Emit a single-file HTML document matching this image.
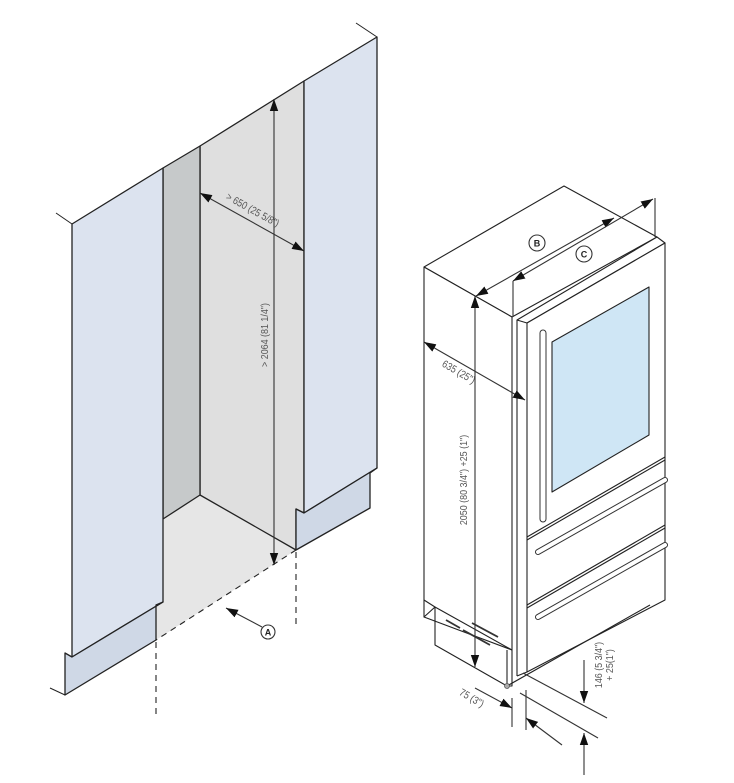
<!DOCTYPE html>
<html><head><meta charset="utf-8"><style>html,body{margin:0;padding:0;background:#fff}svg{display:block}text{font-family:"Liberation Sans",sans-serif;fill:#555;font-size:10.5px}</style></head><body>
<svg width="734" height="783" viewBox="0 0 734 783" xmlns="http://www.w3.org/2000/svg">
<defs>
<marker id="ah" viewBox="0 0 10 10" refX="10" refY="5" markerWidth="12" markerHeight="12" markerUnits="userSpaceOnUse" orient="auto-start-reverse"><path d="M0,1.5 L10,5 L0,8.5 z" fill="#111"/></marker>
</defs>
<g stroke="#222" stroke-width="1.3" stroke-linejoin="round">
<polygon points="163,519 200,495 296,550 156,640 156,605 163,602" fill="#e6e6e6" stroke="none"/>
<polygon points="200,146 304,81 304,513 296,509 296,550 200,495" fill="#dfdfdf"/>
<polygon points="163,168 200,146 200,495 163,519" fill="#c6c9ca"/>
<polygon points="304,81 377,37 377,468 304,513" fill="#dce3ef"/>
<polygon points="296,509 304,513 377,468 370,473 370,508 296,550" fill="#cfd8e6"/>
<polygon points="72,224 163,168 163,602 72,657" fill="#dce3ef"/>
<polygon points="65,653 72,657 163,602 156,605 156,640 65,695" fill="#cfd8e6"/>
<line x1="56" y1="213" x2="72" y2="224" stroke-width="1"/>
<line x1="356" y1="23" x2="377" y2="37" stroke-width="1"/>
<line x1="50" y1="688" x2="65" y2="695" stroke-width="1"/>
</g>
<g stroke="#222" stroke-width="1.1" stroke-dasharray="6,5" fill="none">
<line x1="296" y1="550" x2="156" y2="640"/>
<line x1="296" y1="552" x2="296" y2="627"/>
<line x1="156" y1="642" x2="156" y2="716"/>
</g>
<g stroke="#333" stroke-width="1.1" fill="none">
<line x1="274" y1="99" x2="274" y2="565" marker-start="url(#ah)" marker-end="url(#ah)"/>
<line x1="200" y1="193" x2="304" y2="251" marker-start="url(#ah)" marker-end="url(#ah)"/>
<line x1="262" y1="627" x2="226" y2="608" marker-end="url(#ah)"/>
<circle cx="268" cy="632" r="7" fill="#fff"/>
</g>
<text x="268" y="635.5" text-anchor="middle" style="font-size:9px;fill:#222;font-weight:bold">A</text>
<text transform="translate(268,335) rotate(-90) scale(0.85,1)" text-anchor="middle">&gt; 2064 (81 1/4")</text>
<text transform="translate(251,213) rotate(29) scale(0.85,1)" text-anchor="middle">&gt; 650 (25 5/8")</text>

<!-- fridge -->
<g stroke="#222" stroke-width="1.1" stroke-linejoin="round">
<polygon points="424,267 564,186 657,237 512,317" fill="#fff"/>
<polygon points="424,267 512,317 512,686 507,686 435,645 435,607 424,617" fill="#fff"/>
<line x1="424" y1="600" x2="435" y2="607"/>
<line x1="424" y1="617" x2="512" y2="650"/>
<line x1="435" y1="607" x2="512" y2="650"/>
<line x1="507" y1="650" x2="507" y2="686"/>
<line x1="517" y1="320" x2="517" y2="676"/>
<polygon points="517,320 657,237 665,243 527,323" fill="#fff"/>
<polygon points="527,323 665,243 665,600 527,672" fill="#fff"/>
<line x1="507" y1="686" x2="650" y2="605"/>
<line x1="517" y1="676" x2="527" y2="672"/>
<line x1="527" y1="537" x2="665" y2="457"/>
<line x1="527" y1="540" x2="665" y2="460"/>
<line x1="527" y1="605" x2="665" y2="525"/>
<line x1="527" y1="608" x2="665" y2="528"/>
<polygon points="552,342 649,287 649,435 552,492" fill="#cfe6f5"/>
</g>
<circle cx="507" cy="686" r="2.5" fill="#aaa" stroke="#555" stroke-width="0.8"/>
<g stroke="#333" fill="#fff" stroke-width="1">
<rect x="540" y="330" width="6" height="192" rx="3"/>
<line x1="538" y1="552" x2="665" y2="480" stroke-width="6" stroke-linecap="round"/>
<line x1="538" y1="552" x2="665" y2="480" stroke="#fff" stroke-width="4" stroke-linecap="round"/>
<line x1="538" y1="617" x2="665" y2="545" stroke-width="6" stroke-linecap="round"/>
<line x1="538" y1="617" x2="665" y2="545" stroke="#fff" stroke-width="4" stroke-linecap="round"/>
</g>
<g stroke="#333" stroke-width="1.8">
<line x1="446" y1="620" x2="460" y2="628"/><line x1="463" y1="630" x2="490" y2="645"/><line x1="472" y1="623" x2="498" y2="637"/>
</g>
<g stroke="#333" stroke-width="1.1" fill="none">
<line x1="475" y1="296" x2="475" y2="667" marker-start="url(#ah)" marker-end="url(#ah)"/>
<line x1="476" y1="296" x2="614" y2="218" marker-start="url(#ah)" marker-end="url(#ah)"/>
<line x1="513" y1="281" x2="653" y2="199" marker-start="url(#ah)" marker-end="url(#ah)"/>
<line x1="513" y1="281" x2="513" y2="317"/><line x1="655" y1="198" x2="655" y2="237"/>
<line x1="424" y1="342" x2="525" y2="400" marker-start="url(#ah)" marker-end="url(#ah)"/>
<line x1="523" y1="673" x2="607" y2="718"/><line x1="520" y1="693" x2="598" y2="738"/>
<line x1="584" y1="660" x2="584" y2="703" marker-end="url(#ah)"/>
<line x1="584" y1="775" x2="584" y2="733" marker-end="url(#ah)"/>
<line x1="512" y1="698" x2="512" y2="727"/><line x1="526" y1="690" x2="526" y2="730"/>
<line x1="475" y1="688" x2="512" y2="708" marker-end="url(#ah)"/>
<line x1="562" y1="745" x2="526" y2="718" marker-end="url(#ah)"/>
<circle cx="537" cy="243" r="8" fill="#fff"/>
<circle cx="584" cy="254" r="8" fill="#fff"/>
</g>
<text x="537" y="246.5" text-anchor="middle" style="font-size:9px;fill:#222;font-weight:bold">B</text>
<text x="584" y="257.5" text-anchor="middle" style="font-size:9px;fill:#222;font-weight:bold">C</text>
<text transform="translate(467,480) rotate(-90) scale(0.85,1)" text-anchor="middle">2050 (80 3/4") +25 (1")</text>
<text transform="translate(457,375) rotate(30) scale(0.85,1)" text-anchor="middle">635 (25")</text>
<text transform="translate(602,665) rotate(-90) scale(0.85,1)" text-anchor="middle">146 (5 3/4")</text>
<text transform="translate(613,665) rotate(-90) scale(0.85,1)" text-anchor="middle">+ 25(1")</text>
<text transform="translate(470,701) rotate(30) scale(0.85,1)" text-anchor="middle">75 (3")</text>
</svg>
</body></html>
